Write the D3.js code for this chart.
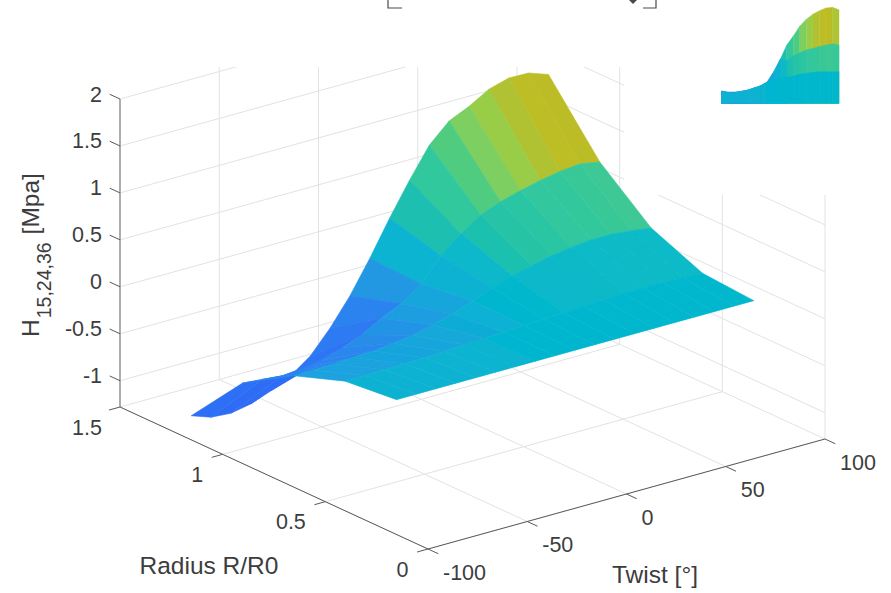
<!DOCTYPE html>
<html>
<head>
<meta charset="utf-8">
<script src="https://cdn.jsdelivr.net/npm/d3@7"></script>
<style>
    html, body { margin: 0; padding: 0; background: #fff; }
    svg { display: block; }
    text { font-family: "Liberation Sans", Arial, sans-serif; fill: #3d3d3d; }
    .tick-label { font-size: 21.5px; }
    .axis-title { font-size: 24.5px; }
</style>
</head>
<body>
<div id="chart"></div>
<script>
const w = 891;
const h = 593;

// ---- values
const twistValues = [-90, -80, -70, -60, -50, -40, -30, -20, -10, 0, 10, 20, 30, 40, 50, 60, 70, 80, 90];
const radiusValues = [0.25, 0.5, 0.75, 1, 1.25];

const hAt025 = [0, 0, 0, 0, 0, 0, 0, 0, 0, 0, 0, 0, 0, 0, 0, 0, 0, 0, 0];
const hAt050 = [-0.055, -0.05, -0.05, -0.045, -0.04, -0.03, -0.02, -0.01, 0, 0.01, 0.02, 0.03, 0.04, 0.05, 0.06, 0.06, 0.06, 0.05, 0.04];
const hAt075 = [-0.25, -0.25, -0.24, -0.23, -0.22, -0.2, -0.17, -0.12, -0.06, 0.02, 0.1, 0.17, 0.22, 0.27, 0.3, 0.32, 0.32, 0.3, 0.27];
const hAt100 = [-0.58, -0.6, -0.62, -0.6, -0.57, -0.5, -0.42, -0.3, -0.2, -0.05, 0.19, 0.37, 0.51, 0.59, 0.65, 0.7, 0.74, 0.76, 0.72];
const hAt125 = [-1.18, -1.254, -1.27, -1.23, -1.15, -1.05, -0.895, -0.655, -0.37, -0.03, 0.34, 0.685, 1.0, 1.2, 1.295, 1.42, 1.48, 1.475, 1.4];
const surfaceRows = [hAt025, hAt050, hAt075, hAt100, hAt125];

// small side view in the top right corner
const insetTop = [-1.2, -1.24, -1.24, -1.21, -1.17, -1.1, -1.03, -0.91, -0.58, -0.18, 0.28, 0.57, 0.89, 1.11, 1.27, 1.38, 1.47, 1.49, 1.41];
const insetMid = [-1.2, -1.24, -1.24, -1.21, -1.17, -1.1, -1.03, -0.91, -0.58, -0.18, -0.22, -0.07, 0.03, 0.12, 0.17, 0.23, 0.28, 0.32, 0.28];
const insetLow = [-1.2, -1.24, -1.24, -1.21, -1.17, -1.1, -1.03, -0.91, -0.84, -0.79, -0.76, -0.72, -0.65, -0.63, -0.6, -0.58, -0.58, -0.58, -0.58];

const heightTicks = [-1, -0.5, 0, 0.5, 1, 1.5, 2];
const heightLabels = ["-1", "-0.5", "0", "0.5", "1", "1.5", "2"];
const radiusTicks = [0, 0.5, 1, 1.5];
const twistTicks = [-100, -50, 0, 50, 100];

// colour stops of the map
const colorDomain = [-1.25, -0.6, -0.25, 0, 0.32, 0.34, 0.7, 0.76, 1, 1.2, 1.3, 1.42, 1.48];
const colorRange = ["#2f6cf6", "#2b85ee", "#1ba2de", "#05b6cf", "#08bac6", "#1cbfb0", "#33c89c", "#3cc896", "#50cc80", "#7ccf60", "#9bcc45", "#b0c230", "#bdbd25"];

//------------------------------------
//      SCALES
//------------------------------------
const zMin = -1.28;
const zMax = 2.34;

const twistX = d3.scaleLinear().domain([-100, 100]).range([0, 397]);
const twistY = d3.scaleLinear().domain([-100, 100]).range([0, -110]);
const radiusX = d3.scaleLinear().domain([0, 1.5]).range([428, 120]);
const radiusY = d3.scaleLinear().domain([0, 1.5]).range([549, 407]);
const heightY = d3.scaleLinear().domain([zMin, 2]).range([0, -308]);
const colorScale = d3.scaleLinear().domain(colorDomain).range(colorRange).clamp(true);

const project = (t, r, z) => [radiusX(r) + twistX(t), radiusY(r) + twistY(t) + heightY(z)];

const svg = d3.select("#chart").append("svg").attr("width", w).attr("height", h);

// the source picture is a bit soft
svg.append("defs")
    .append("filter")
    .attr("id", "soft")
    .append("feGaussianBlur")
    .attr("stdDeviation", 0.5);

const line3d = (a, b) => {
    const p = project(a[0], a[1], a[2]);
    const q = project(b[0], b[1], b[2]);
    return `M${p[0]},${p[1]}L${q[0]},${q[1]}`;
};

//------------------------------------
//      GRID
//------------------------------------
let gridPaths = [];
radiusTicks.forEach((r) => gridPaths.push(line3d([-100, r, zMin], [100, r, zMin])));
twistTicks.forEach((t) => gridPaths.push(line3d([t, 0, zMin], [t, 1.5, zMin])));
heightTicks.forEach((z) => {
    gridPaths.push(line3d([-100, 1.5, z], [100, 1.5, z]));
    gridPaths.push(line3d([100, 1.5, z], [100, 0, z]));
});
twistTicks.slice(1).forEach((t) => gridPaths.push(line3d([t, 1.5, zMin], [t, 1.5, zMax])));
radiusTicks.slice(0, 3).forEach((r) => gridPaths.push(line3d([100, r, zMin], [100, r, zMax])));

svg.append("g")
    .selectAll("path")
    .data(gridPaths)
    .enter()
    .append("path")
    .attr("d", (d) => d)
    .attr("fill", "none")
    .attr("stroke", "#e2e2e2")
    .attr("stroke-width", 1);

// the image is cut off above the walls and pasted over in the corner
svg.append("rect").attr("x", 0).attr("y", 0).attr("width", w).attr("height", 67).attr("fill", "#fff");
svg.append("rect").attr("x", 624).attr("y", 0).attr("width", w - 624).attr("height", 195).attr("fill", "#fff");

//------------------------------------
//      AXES
//------------------------------------
const axisColor = "#5a5a5a";
const axisLines = [
    line3d([-100, 1.5, zMin], [-100, 1.5, 2]),
    line3d([-100, 1.5, zMin], [-100, 0, zMin]),
    line3d([-100, 0, zMin], [100, 0, zMin]),
];
svg.append("g")
    .selectAll("path")
    .data(axisLines)
    .enter()
    .append("path")
    .attr("d", (d) => d)
    .attr("fill", "none")
    .attr("stroke", (d, i) => (i === 0 ? "#8a8a8a" : axisColor))
    .attr("stroke-width", (d, i) => (i === 0 ? 1.4 : 1));

let tickPaths = [];
heightTicks.forEach((z) => tickPaths.push(line3d([-100, 1.5, z], [-100, 1.55, z])));
radiusTicks.forEach((r) => tickPaths.push(line3d([-100, r, zMin], [-105.5, r, zMin])));
twistTicks.forEach((t) => tickPaths.push(line3d([t, 0, zMin], [t, -0.05, zMin])));
svg.append("g")
    .selectAll("path")
    .data(tickPaths)
    .enter()
    .append("path")
    .attr("d", (d) => d)
    .attr("fill", "none")
    .attr("stroke", axisColor)
    .attr("stroke-width", 1);

// tick labels
svg.append("g")
    .selectAll("text")
    .data(heightTicks)
    .enter()
    .append("text")
    .attr("class", "tick-label")
    .attr("text-anchor", "end")
    .attr("x", 102)
    .attr("y", (d) => project(-100, 1.5, d)[1] + 2.5)
    .text((d, i) => heightLabels[i]);

svg.append("g")
    .selectAll("text")
    .data(radiusTicks)
    .enter()
    .append("text")
    .attr("class", "tick-label")
    .attr("text-anchor", "end")
    .attr("x", (d) => (d === 1.5 ? 102 : project(-100, d, zMin)[0] - 19.5))
    .attr("y", (d) => project(-100, d, zMin)[1] + 27.5)
    .text((d) => d);

svg.append("g")
    .selectAll("text")
    .data(twistTicks)
    .enter()
    .append("text")
    .attr("class", "tick-label")
    .attr("text-anchor", "start")
    .attr("x", (d) => project(d, 0, zMin)[0] + 15)
    .attr("y", (d) => project(d, 0, zMin)[1] + 30.5)
    .text((d) => d);

// axis titles
svg.append("text")
    .attr("class", "axis-title")
    .attr("text-anchor", "middle")
    .attr("x", 209)
    .attr("y", 574)
    .text("Radius R/R0");

svg.append("text")
    .attr("class", "axis-title")
    .attr("text-anchor", "middle")
    .attr("x", 655)
    .attr("y", 583)
    .text("Twist [°]");

const yTitle = svg.append("text")
    .attr("class", "axis-title")
    .attr("transform", "translate(39, 337) rotate(-90)");
yTitle.append("tspan").text("H");
yTitle.append("tspan").attr("dy", 12).attr("dx", 1).style("font-size", "19.5px").text("15,24,36");
yTitle.append("tspan").attr("dy", -12).attr("dx", 8).text("[Mpa]");

// leftover bracket of the cropped box at the top edge
svg.append("path")
    .attr("d", "M388,0V8H402M643,8H656V0")
    .attr("fill", "none")
    .attr("stroke", "#4a4a4a")
    .attr("stroke-width", 1.2);
svg.append("path")
    .attr("d", "M629,0L633,4L637,0Z")
    .attr("fill", "#4a4a4a");

//------------------------------------
//      SURFACE
//------------------------------------
let facets = [];
for (let i = 0; i < radiusValues.length - 1; i++) {
    for (let j = 0; j < twistValues.length - 1; j++) {
        const corners = [
            [twistValues[j], radiusValues[i], surfaceRows[i][j]],
            [twistValues[j + 1], radiusValues[i], surfaceRows[i][j + 1]],
            [twistValues[j + 1], radiusValues[i + 1], surfaceRows[i + 1][j + 1]],
            [twistValues[j], radiusValues[i + 1], surfaceRows[i + 1][j]],
        ];
        facets.push({
            corners: corners,
            // depth towards the viewer for this camera (az about 38, el about 21)
            depth: d3.mean(corners, (c) => -1.436 * c[0] - 247 * c[1] + 36 * c[2]),
            color: colorScale(surfaceRows[i + 1][j]),
        });
    }
}
facets.sort((a, b) => a.depth - b.depth);

svg.append("g")
    .attr("filter", "url(#soft)")
    .selectAll("polygon")
    .data(facets)
    .enter()
    .append("polygon")
    .attr("points", (d) => d.corners.map((c) => project(c[0], c[1], c[2]).join(",")).join(" "))
    .attr("fill", (d) => d.color)
    .attr("stroke", (d) => d.color)
    .attr("stroke-width", 0.6)
    .attr("stroke-linejoin", "round");

//------------------------------------
//      INSET
//------------------------------------
const insetX = d3.scaleLinear().domain([-90, 90]).range([721.5, 839]);
const insetY = d3.scaleLinear().domain([-1.6, 1.5]).range([103.5, 7]);

const insetLayers = [
    { curve: insetTop, colors: hAt125, shift: 1 },
    { curve: insetMid, colors: hAt100, shift: 1 },
    { curve: insetLow, colors: hAt050, shift: 0 },
];

const insetArea = d3.area()
    .x((d) => insetX(d.t))
    .y0(insetY(-1.6))
    .y1((d) => insetY(d.v))
    .curve(d3.curveLinear);

const insetG = svg.append("g").attr("filter", "url(#soft)");
insetLayers.forEach((layer) => {
    for (let j = 0; j < twistValues.length - 1; j++) {
        const c = colorScale(layer.colors[j + layer.shift]);
        insetG.append("path")
            .attr("d", insetArea([
                { t: twistValues[j], v: layer.curve[j] },
                { t: twistValues[j + 1], v: layer.curve[j + 1] },
            ]))
            .attr("fill", c)
            .attr("stroke", c)
            .attr("stroke-width", 0.4);
    }
});
</script>
</body>
</html>
